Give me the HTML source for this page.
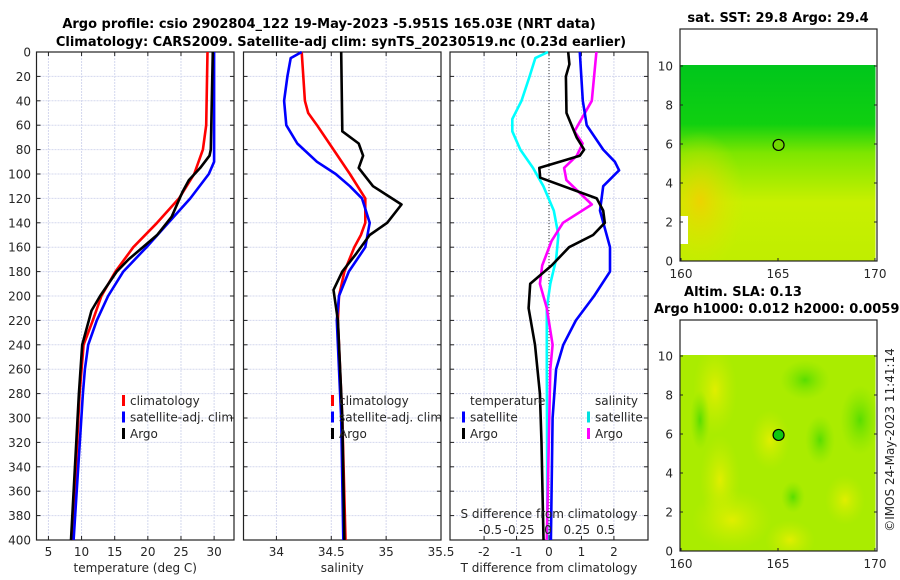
<!DOCTYPE html>
<html><head><meta charset="utf-8"><style>
body{margin:0;background:#fff;}
svg{display:block;font-family:"DejaVu Sans","Liberation Sans",sans-serif;}
.t{font-size:12px;fill:#262626}
.b{font-size:13px;font-weight:bold;fill:#000}
</style></head><body>
<svg id="c" width="900" height="580" viewBox="0 0 900 580" xmlns="http://www.w3.org/2000/svg">
<defs>
<linearGradient id="sstg" x1="0" y1="0" x2="0" y2="1">
<stop offset="0" stop-color="#00c61c"/><stop offset="0.3" stop-color="#10d010"/><stop offset="0.45" stop-color="#7ee600"/><stop offset="0.7" stop-color="#c8f000"/><stop offset="1" stop-color="#c0ee00"/></linearGradient>
<radialGradient id="org" cx="0.5" cy="0.5" r="0.5"><stop offset="0" stop-color="#f0d000" stop-opacity="0.9"/><stop offset="1" stop-color="#d8e800" stop-opacity="0"/></radialGradient>
<radialGradient id="yel" cx="0.5" cy="0.5" r="0.5"><stop offset="0" stop-color="#e6ee00" stop-opacity="0.9"/><stop offset="1" stop-color="#c8ee00" stop-opacity="0"/></radialGradient>
<radialGradient id="grn" cx="0.5" cy="0.5" r="0.5"><stop offset="0" stop-color="#50dc00" stop-opacity="0.9"/><stop offset="1" stop-color="#80e400" stop-opacity="0"/></radialGradient>
<clipPath id="clipsst"><rect x="680" y="65" width="196" height="196"/></clipPath>
<clipPath id="clipsla"><rect x="680" y="355" width="196" height="196"/></clipPath>
</defs>
</svg>
<script>
// ---- data ----
const depthClimT=[0,60,80,100,120,140,160,180,200,220,240,280,400];
const tempClim=[29.0,28.8,28.3,27.0,24.7,21.4,17.8,15.1,13.0,11.7,10.3,9.7,8.6];
const depthSatT=[0,90,100,120,140,160,180,200,220,240,260,280,400];
const tempSat=[30.0,30.0,29.2,26.4,23.1,19.8,16.3,14.0,12.3,11.0,10.5,10.2,8.8];
const depthArgoT=[0,80,85,95,105,115,135,150,170,180,200,212,240,280,400];
const tempArgo=[29.8,29.5,29.3,27.9,26.2,25.2,23.6,21.4,17.1,15.3,12.8,11.5,10.1,9.6,8.4];
const depthClimS=[0,40,50,60,80,100,120,140,150,160,180,200,220,300,400];
const salClim=[34.23,34.26,34.29,34.37,34.52,34.67,34.81,34.81,34.77,34.71,34.62,34.57,34.56,34.60,34.63];
const depthSatS=[0,5,20,40,60,75,90,100,110,120,140,160,180,200,220,300,400];
const salSat=[34.23,34.13,34.10,34.07,34.09,34.19,34.37,34.54,34.67,34.78,34.85,34.81,34.66,34.57,34.55,34.59,34.61];
const depthArgoS=[0,65,75,85,95,110,125,140,150,165,180,195,220,300,400];
const salArgo=[34.59,34.60,34.75,34.79,34.75,34.88,35.14,35.01,34.85,34.73,34.60,34.52,34.56,34.60,34.62];
const depthDSsat=[0,5,20,40,55,65,80,95,110,130,150,170,190,210,260,400];
const dSsat=[0,-0.11,-0.16,-0.23,-0.31,-0.31,-0.24,-0.13,-0.04,0.05,0.09,0.07,0.02,-0.01,-0.01,-0.005];
const depthDSargo=[0,40,55,65,75,85,95,105,125,140,155,175,190,210,240,260,400];
const dSargo=[0.42,0.38,0.29,0.23,0.30,0.25,0.14,0.16,0.38,0.13,0.03,-0.05,-0.07,-0.01,0.04,0.02,-0.01];
const depthDTsat=[0,40,60,80,90,97,110,130,160,180,200,220,240,260,300,400];
const dTsat=[0.95,1.04,1.16,1.67,2.03,2.16,1.67,1.57,1.88,1.88,1.39,0.83,0.44,0.22,0.11,0.06];
const depthDTargo=[0,10,20,50,70,80,85,95,103,120,130,140,150,160,175,190,210,240,280,320,400];
const dTargo=[0.59,0.63,0.52,0.54,0.85,1.08,0.95,-0.30,-0.27,1.47,1.67,1.72,1.36,0.62,0.08,-0.58,-0.63,-0.43,-0.28,-0.23,-0.17];
const depthTicks=[0,20,40,60,80,100,120,140,160,180,200,220,240,260,280,300,320,340,360,380,400];
const tTicks=[5,10,15,20,25,30];
const sTicks=[34,34.5,35,35.5];
const dtTicks=[-2,-1,0,1,2];
const dsTicks=[-0.5,-0.25,0,0.25,0.5];
const dsTickLabels=["-0.5","-0.25","0","0.25","0.5"];
const lonTicks=[160,165,170];
const latTicks=[0,2,4,6,8,10];
const argoLon=165.03, argoLat=5.951;

const NS='http://www.w3.org/2000/svg';
const svg=document.getElementById('c');
function mk(tag,attrs,parent){const e=document.createElementNS(NS,tag);for(const k in attrs)e.setAttribute(k,attrs[k]);(parent||svg).appendChild(e);return e;}
function txt(s,x,y,cls,anchor,parent){const e=mk('text',{x:x,y:y,class:cls,'text-anchor':anchor||'middle'},parent);e.textContent=s;return e;}

const Y0=52,Y1=540;
const yD=d=>Y0+(d/400)*(Y1-Y0);
function lin(d0,d1,p0,p1){return v=>p0+(v-d0)/(d1-d0)*(p1-p0);}
const panels=[
 {x0:36.5,x1:234,sx:lin(3.2,33,36.5,234),ticks:tTicks,labels:tTicks.map(String),name:'temperature-panel',xl:'temperature (deg C)'},
 {x0:243.5,x1:441,sx:lin(33.7,35.5,243.5,441),ticks:sTicks,labels:sTicks.map(String),name:'salinity-panel',xl:'salinity'},
 {x0:450,x1:648,sx:lin(-3.05,3.05,450,648),ticks:dtTicks,labels:dtTicks.map(String),name:'difference-panel',xl:'T difference from climatology'}
];
panels.forEach((p,i)=>{
 const g=mk('g',{});
 
 
 depthTicks.forEach(d=>{ if(d>0&&d<400) mk('line',{x1:p.x0,x2:p.x1,y1:yD(d),y2:yD(d),stroke:'#d4d8ee','stroke-dasharray':'2,1','stroke-width':1},g);
   mk('line',{x1:p.x0,x2:p.x0+4,y1:yD(d),y2:yD(d),stroke:'#222'},g);
   mk('line',{x1:p.x1,x2:p.x1-4,y1:yD(d),y2:yD(d),stroke:'#222'},g);
   if(i===0){txt(String(d),31,yD(d)+4.5,'t','end',g);}
 });
 p.ticks.forEach((v,k)=>{const x=p.sx(v);
   mk('line',{x1:x,x2:x,y1:Y0,y2:Y1,stroke:'#d4d8ee','stroke-dasharray':'2,1'},g);
   mk('line',{x1:x,x2:x,y1:Y1,y2:Y1-4,stroke:'#222'},g);
   mk('line',{x1:x,x2:x,y1:Y0,y2:Y0+4,stroke:'#222'},g);
   txt(p.labels[k],x,556,'t','middle',g);});
 mk('rect',{x:p.x0,y:Y0,width:p.x1-p.x0,height:Y1-Y0,fill:'none',stroke:'#222','stroke-width':1.2},g);
 const xl=txt(p.xl,(p.x0+p.x1)/2,572,'t','middle',g);
 
 
});
function line(xs,ds,sx,color,name,w){
 const pts=xs.map((v,k)=>sx(v).toFixed(1)+','+yD(ds[k]).toFixed(1)).join(' ');
 const e=mk('polyline',{points:pts,fill:'none',stroke:color,'stroke-width':w||2.6,'stroke-linejoin':'round'});
 
 
}
const P=panels;
line(tempClim,depthClimT,P[0].sx,'#ff0000','temp-climatology-line');
line(tempSat,depthSatT,P[0].sx,'#0000ff','temp-satellite-line');
line(tempArgo,depthArgoT,P[0].sx,'#000000','temp-argo-line');
line(salClim,depthClimS,P[1].sx,'#ff0000','sal-climatology-line');
line(salSat,depthSatS,P[1].sx,'#0000ff','sal-satellite-line');
line(salArgo,depthArgoS,P[1].sx,'#000000','sal-argo-line');
const zx=P[2].sx(0);
mk('line',{x1:zx,x2:zx,y1:Y0,y2:Y1,stroke:'#333','stroke-dasharray':'1,2'});
const sxS=lin(-0.85,0.85,450,646);
line(dSsat,depthDSsat,sxS,'#00ffff','sal-diff-satellite-line');
line(dSargo,depthDSargo,sxS,'#ff00ff','sal-diff-argo-line');
line(dTsat,depthDTsat,P[2].sx,'#0000ff','temp-diff-satellite-line');
line(dTargo,depthDTargo,P[2].sx,'#000000','temp-diff-argo-line');
txt('S difference from climatology',549,518,'t','middle');
dsTicks.forEach((v,k)=>txt(dsTickLabels[k],sxS(v),534,'t','middle'));
function leg(x,y,c,label){mk('rect',{x:x,y:y-10,width:3,height:11,fill:c});txt(label,x+8,y,'t','start');}
[[122,'#ff0000','climatology',0],[122,'#0000ff','satellite-adj. clim',1],[122,'#000000','Argo',2]].forEach(a=>leg(a[0],405+a[3]*16.5,a[1],a[2]));
[[331,'#ff0000','climatology',0],[331,'#0000ff','satellite-adj. clim',1],[331,'#000000','Argo',2]].forEach(a=>leg(a[0],405+a[3]*16.5,a[1],a[2]));
txt('temperature',470,405,'t','start');
leg(462,421.5,'#0000ff','satellite');leg(462,438,'#000000','Argo');
txt('salinity',595,405,'t','start');
leg(587,421.5,'#00e0e0','satellite');leg(587,438,'#ff00ff','Argo');
const t1=txt('Argo profile: csio 2902804_122 19-May-2023 -5.951S 165.03E (NRT data)',329,28,'b','middle');

txt('Climatology: CARS2009. Satellite-adj clim: synTS_20230519.nc (0.23d earlier)',341,46,'b','middle');
function map(top,bot,dataTop,kind){
 const g=mk('g',{});
 
 
 const mx=lin(160,170,681,875), my=lin(0,10,bot,dataTop+1);
 const inner=mk('g',{'clip-path':'url(#clip'+kind+')'},g);
 if(kind==='sst'){
  mk('rect',{x:680,y:dataTop,width:195.5,height:bot-dataTop,fill:'url(#sstg)'},inner);
  mk('ellipse',{cx:700,cy:bot-60,rx:45,ry:70,fill:'url(#org)'},inner);
  mk('rect',{x:680,y:bot-45,width:8,height:28,fill:'#fff'},inner);
 } else {
  mk('rect',{x:680,y:dataTop,width:195.5,height:bot-dataTop,fill:'#aaec00'},inner);
  [[715,390,22,45],[720,480,20,45],[732,520,40,30],[790,540,25,20],[770,440,20,30],[845,500,20,25]].forEach(e=>mk('ellipse',{cx:e[0],cy:e[1],rx:e[2],ry:e[3],fill:'url(#yel)'},inner));
  [[860,420,20,35],[820,440,15,25],[805,380,25,20],[793,497,12,16],[700,420,10,30]].forEach(e=>mk('ellipse',{cx:e[0],cy:e[1],rx:e[2],ry:e[3],fill:'url(#grn)'},inner));
 }
 mk('rect',{x:680,y:top,width:197,height:bot-top,fill:'none',stroke:'#222','stroke-width':1.2},g);
 lonTicks.forEach(v=>{mk('line',{x1:mx(v),x2:mx(v),y1:bot,y2:bot-3,stroke:'#222'},g);txt(String(v),mx(v),bot+17,'t','middle',g);});
 latTicks.forEach(v=>{mk('line',{x1:680,x2:683,y1:my(v),y2:my(v),stroke:'#222'},g);mk('line',{x1:877,x2:874,y1:my(v),y2:my(v),stroke:'#222'},g);txt(String(v),673,my(v)+4.5,'t','end',g);});
 const c=mk('circle',{cx:mx(argoLon),cy:my(argoLat),r:5.5,fill:kind==='sst'?'#70d800':'#10c810',stroke:'#000','stroke-width':1.2},g);
 
 
}
map(29,261,65,'sst');
map(320,551,355,'sla');
txt('sat. SST: 29.8 Argo: 29.4',778,22,'b','middle');
txt('Altim. SLA: 0.13',743,296,'b','middle');
txt('Argo h1000: 0.012 h2000: 0.0059',654,313,'b','start');
const cp=txt('©IMOS 24-May-2023 11:41:14',0,0,'t','middle');
cp.setAttribute('transform','translate(894,440) rotate(-90)');


</script>
</body></html>
